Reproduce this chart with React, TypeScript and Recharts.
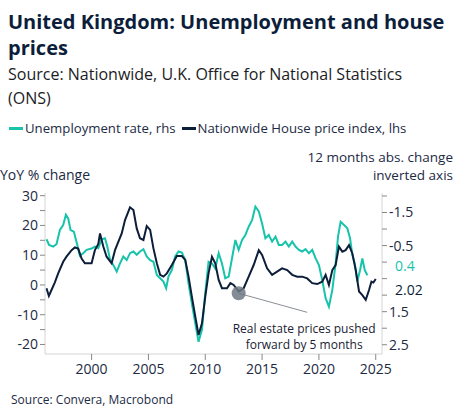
import { LineChart, Line, XAxis, YAxis, ReferenceDot, ReferenceLine } from 'recharts';

// Nationwide house price index, YoY % change (left axis), shifted 5 months forward
const hpiDates = [
  1996.03, 1996.24, 1996.47, 1996.76, 1997.06, 1997.5, 1997.79, 1998.24, 1998.53, 1998.82,
  1999.12, 1999.41, 2000.0, 2000.29, 2000.59, 2000.74, 2001.03, 2001.32, 2001.76, 2002.06,
  2002.35, 2002.65, 2002.94, 2003.38, 2003.68, 2003.97, 2004.26, 2004.56, 2004.85, 2005.15,
  2005.44, 2005.74, 2006.03, 2006.32, 2006.62, 2007.06, 2007.5, 2007.94, 2008.24, 2008.53,
  2008.82, 2009.12, 2009.41, 2009.71, 2010.0, 2010.29, 2010.59, 2010.88, 2011.18, 2011.47,
  2011.91, 2012.21, 2012.5, 2012.94, 2013.38, 2013.82, 2014.26, 2014.71, 2015.0, 2015.44,
  2015.88, 2016.32, 2016.76, 2017.21, 2017.65, 2018.09, 2018.53, 2018.97, 2019.41, 2019.85,
  2020.29, 2020.59, 2020.88, 2021.18, 2021.47, 2021.76, 2022.06, 2022.35, 2022.65, 2022.94,
  2023.24, 2023.53, 2023.82, 2024.12, 2024.41, 2024.62, 2024.79, 2025.0,
];
const hpiChange = [
  -1.1, -3.7, -1.7, 0.8, 3.9, 7.8, 9.5, 11.7, 12.6, 12.2,
  8.9, 7.3, 7.3, 11.7, 13.8, 17.3, 12.9, 9.5, 7.3, 11.7,
  14.5, 17.3, 21.8, 26.1, 25.2, 19.0, 15.7, 15.1, 19.8, 18.5,
  12.3, 7.3, 3.4, 2.8, 3.9, 6.7, 9.7, 9.7, 8.4, 2.8,
  -3.9, -10.6, -16.8, -12.9, -3.9, 3.9, 9.5, 7.3, 1.7, -1.1,
  -1.1, 0.6, 0.0, -2.2, -1.1, 2.8, 6.7, 11.7, 10.1, 5.6,
  3.4, 4.5, 5.6, 5.0, 3.4, 2.8, 2.8, 2.2, 0.6, 0.3,
  1.1, 3.4, 0.0, 5.0, 6.7, 12.9, 11.2, 11.7, 13.4, 10.6,
  5.0, -2.2, -3.4, -5.0, -1.7, 1.1, 0.8, 2.02,
];

// Unemployment rate, 12 months abs. change (right axis, inverted)
const unempDates = [
  1996.03, 1996.26, 1996.62, 1996.91, 1997.21, 1997.5, 1997.74, 1997.94, 1998.15, 1998.44,
  1998.74, 1998.97, 1999.26, 1999.56, 2000.0, 2000.29, 2000.59, 2000.88, 2001.18, 2001.38,
  2001.62, 2001.91, 2002.21, 2002.5, 2002.79, 2003.09, 2003.38, 2003.68, 2003.97, 2004.26,
  2004.56, 2004.85, 2005.15, 2005.44, 2005.74, 2006.03, 2006.32, 2006.56, 2006.76, 2007.06,
  2007.35, 2007.65, 2007.94, 2008.24, 2008.53, 2008.82, 2009.12, 2009.41, 2009.71, 2010.0,
  2010.29, 2010.59, 2010.88, 2011.18, 2011.47, 2011.76, 2012.06, 2012.35, 2012.65, 2012.94,
  2013.24, 2013.53, 2013.82, 2014.12, 2014.41, 2014.71, 2015.0, 2015.29, 2015.59, 2015.88,
  2016.18, 2016.47, 2016.76, 2017.06, 2017.35, 2017.65, 2017.94, 2018.24, 2018.53, 2018.82,
  2019.12, 2019.41, 2019.71, 2020.0, 2020.29, 2020.59, 2020.88, 2021.18, 2021.47, 2021.68,
  2021.91, 2022.21, 2022.5, 2022.74, 2022.94, 2023.15, 2023.38, 2023.62, 2023.82, 2024.03,
  2024.26,
];
const unempChange = [
  -0.69, -0.52, -0.47, -0.54, -0.97, -1.12, -1.43, -1.32, -0.97, -0.92,
  -0.52, -0.19, -0.27, -0.37, -0.41, -0.47, -0.42, -0.69, -0.72, -0.47,
  -0.08, 0.09, 0.29, 0.04, -0.17, -0.06, -0.27, -0.32, -0.22, -0.32,
  -0.39, -0.17, -0.06, -0.01, 0.39, 0.49, 0.59, 0.79, 0.44, 0.24,
  -0.17, -0.32, -0.29, -0.06, 0.64, 1.25, 1.85, 2.41, 2.05, 0.94,
  -0.01, 0.04, 0.19, -0.27, 0.04, 0.49, 0.44, -0.11, -0.67, -0.37,
  -0.67, -0.82, -1.07, -1.27, -1.68, -1.53, -1.17, -0.72, -0.82, -0.62,
  -0.77, -0.52, -0.52, -0.62, -0.47, -0.62, -0.47, -0.37, -0.32, -0.39,
  -0.27, -0.37, -0.11, 0.09, 0.54, 1.09, 1.35, 0.84, 0.04, -0.77,
  -1.22, -1.12, -1.02, -0.72, -0.22, 0.04, 0.59, 0.24, -0.11, 0.24,
  0.4,
];

const yearTicks = [2000, 2005, 2010, 2015, 2020, 2025];
const leftTicks = [-20, -15, -10, -5, 0, 5, 10, 15, 20, 25, 30];
const rightTicks = [-2, -1.5, -1, -0.5, 0, 0.5, 1, 1.5, 2, 2.5];
const rightLabels = [-1.5, -0.5, 1.5, 2.5];

const hpiData = hpiDates.map((x, i) => ({ x, v: hpiChange[i] }));
const unempData = unempDates.map((x, i) => ({ x, v: unempChange[i] }));

const TEAL = '#17c4ab';
const NAVY = '#0c1e3a';
const FONT = '"Segoe UI", "Open Sans", "Noto Sans", sans-serif';
const X_MIN = 1995.9;
const X_MAX = 2025.55;

const NoteLabel = ({ viewBox }: any) => {
  const cx = viewBox.x + viewBox.width / 2;
  const cy = viewBox.y + viewBox.height / 2;
  return (
    <text x={cx} y={cy} textAnchor="middle" fill="#1a2233" fontSize={12} fontFamily={FONT}>
      <tspan x={cx} dy={0}>Real estate prices pushed</tspan>
      <tspan x={cx} dy={16}>forward by 5 months</tspan>
    </text>
  );
};

export default function App() {
  return (
    <div style={{ position: 'absolute', left: 0, top: 0, width: 455, height: 417, background: '#fff', fontFamily: FONT, color: NAVY }}>
      <div style={{ position: 'absolute', left: 8, top: 9, width: 440, fontSize: 20, fontWeight: 700, lineHeight: '26px', color: NAVY }}>
        United Kingdom: Unemployment and house prices
      </div>
      <div style={{ position: 'absolute', left: 8, top: 62, width: 440, fontSize: 16, lineHeight: '24px', color: '#1c1c24' }}>
        Source: Nationwide, U.K. Office for National Statistics (ONS)
      </div>

      {/* Legend */}
      <div style={{ position: 'absolute', left: 9, top: 119, fontSize: 13.2, display: 'flex', alignItems: 'center', color: '#1c2a44', whiteSpace: 'nowrap' }}>
        <span style={{ display: 'inline-block', width: 14, height: 3, background: TEAL, marginRight: 2 }} />
        <span style={{ marginRight: 6 }}>Unemployment rate, rhs</span>
        <span style={{ display: 'inline-block', width: 14, height: 3, background: NAVY, marginRight: 2 }} />
        <span>Nationwide House price index, lhs</span>
      </div>

      <div style={{ position: 'absolute', left: 0, top: 165, fontSize: 14, color: '#1c2a44' }}>YoY % change</div>
      <div style={{ position: 'absolute', right: 2, top: 148, fontSize: 13.5, color: '#1c2a44', textAlign: 'right', lineHeight: '18px' }}>
        12 months abs. change
        <br />
        inverted axis
      </div>

      <div style={{ position: 'absolute', left: 0, top: 150 }}>
        <LineChart width={455} height={230} margin={{ top: 43, right: 0, bottom: 0, left: 0 }}>
          <XAxis
            dataKey="x"
            type="number"
            domain={[X_MIN, X_MAX]}
            ticks={yearTicks}
            allowDataOverflow
            height={26}
            tickSize={6}
            tickMargin={4}
            tick={{ fill: '#1c2a44', fontSize: 14, fontFamily: FONT }}
            axisLine={{ stroke: '#d4d4d4' }}
            tickLine={{ stroke: '#888' }}
          />
          <YAxis
            yAxisId="left"
            orientation="left"
            width={45}
            domain={[-23.2, 30.9]}
            ticks={leftTicks}
            allowDataOverflow
            tickSize={5}
            tickFormatter={(v: number) => (v % 10 === 0 ? String(v) : '')}
            tick={{ fill: '#1c2a44', fontSize: 14, fontFamily: FONT }}
            axisLine={{ stroke: '#d4d4d4' }}
            tickLine={{ stroke: '#888' }}
          />
          <YAxis
            yAxisId="right"
            orientation="right"
            width={73}
            reversed
            domain={[-2.09, 2.78]}
            ticks={rightTicks}
            allowDataOverflow
            tickSize={5}
            tickFormatter={(v: number) => (rightLabels.includes(v) ? String(v) : '')}
            tick={{ fill: '#1c2a44', fontSize: 14, fontFamily: FONT }}
            axisLine={{ stroke: '#d4d4d4' }}
            tickLine={{ stroke: '#888' }}
          />
          <Line
            yAxisId="right"
            data={unempData}
            dataKey="v"
            type="linear"
            stroke={TEAL}
            strokeWidth={2}
            dot={false}
            isAnimationActive={false}
          />
          <Line
            yAxisId="left"
            data={hpiData}
            dataKey="v"
            type="linear"
            stroke={NAVY}
            strokeWidth={2}
            dot={false}
            isAnimationActive={false}
          />
          <ReferenceLine
            yAxisId="left"
            segment={[{ x: 2012.94, y: -2.8 }, { x: 2018.97, y: -9.2 }]}
            stroke="#8a8f96"
            strokeWidth={1}
          />
          <ReferenceDot yAxisId="left" x={2012.94} y={-2.8} r={7} fill="#6e7884" fillOpacity={0.85} stroke="none" />
          <ReferenceDot yAxisId="left" x={2018.7} y={-16.2} r={1} fill="none" stroke="none" label={<NoteLabel />} />
          <ReferenceDot
            yAxisId="right"
            x={X_MAX}
            y={0.4}
            r={0}
            ifOverflow="visible"
            label={{ value: '0.4', position: 'right', offset: 13, dy: -9, fill: TEAL, fontSize: 14, fontFamily: FONT }}
          />
          <ReferenceDot
            yAxisId="left"
            x={X_MAX}
            y={2.02}
            r={0}
            ifOverflow="visible"
            label={{ value: '2.02', position: 'right', offset: 13, dy: 11, fill: NAVY, fontSize: 14, fontFamily: FONT }}
          />
        </LineChart>
      </div>

      <div style={{ position: 'absolute', left: 11, top: 391, fontSize: 12, color: '#1c2a44' }}>Source: Convera, Macrobond</div>
    </div>
  );
}
